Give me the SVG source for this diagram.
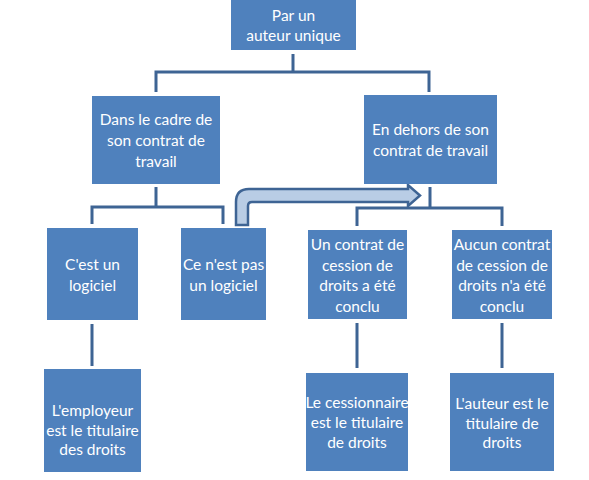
<svg xmlns="http://www.w3.org/2000/svg" width="589" height="480" viewBox="0 0 589 480">
<style>
.box{fill:#4F81BD;}
.t{font-family:Lato,"Liberation Sans",sans-serif;font-size:15.5px;fill:#FFFFFF;text-anchor:middle;}
.ln{stroke:#3E6494;stroke-width:3;fill:none;}
.arr{fill:#B9CDE5;stroke:#3E6494;stroke-width:2.5;stroke-linejoin:miter;}
</style>
<rect width="589" height="480" fill="#FFFFFF"/>
<g id="connectors">
<path class="ln" d="M293,54 V72 M156,92 V72 H429 V92"/>
<path class="ln" d="M156,187 V207 M92,224 V207 H223 V224"/>
<path class="ln" d="M430,187 V208 M357,226 V208 H502 V226"/>
<path class="ln" d="M92,324 V366 M357,323 V368 M502,323 V368"/>
<path class="arr" d="M236,225 L236,202 Q236,189 249,189 L408,189 L408,185 L420,195.5 L408,206 L408,202 L252,202 Q248,202 248,206 L248,225 Z"/>
</g>
<g id="n1"><rect class="box" x="231" y="0" width="125" height="50"/>
<text class="t" x="293.5" y="21">Par un</text><text class="t" x="293.5" y="41">auteur unique</text></g>
<g id="n2"><rect class="box" x="92" y="96" width="128" height="88"/>
<text class="t" x="156" y="125">Dans le cadre de</text><text class="t" x="156" y="146">son contrat de</text><text class="t" x="156" y="167">travail</text></g>
<g id="n3"><rect class="box" x="364" y="95" width="133" height="89"/>
<text class="t" x="430.5" y="135">En dehors de son</text><text class="t" x="430.5" y="156">contrat de travail</text></g>
<g id="n4"><rect class="box" x="47" y="228" width="91" height="92"/>
<text class="t" x="92.5" y="270">C'est un</text><text class="t" x="92.5" y="291">logiciel</text></g>
<g id="n5"><rect class="box" x="181" y="228" width="85" height="92"/>
<text class="t" x="223.5" y="270">Ce n'est pas</text><text class="t" x="223.5" y="291">un logiciel</text></g>
<g id="n6"><rect class="box" x="308" y="230" width="99" height="89"/>
<text class="t" x="357.5" y="250">Un contrat de</text><text class="t" x="357.5" y="270.5">cession de</text><text class="t" x="357.5" y="291">droits a été</text><text class="t" x="357.5" y="311.5">conclu</text></g>
<g id="n7"><rect class="box" x="452" y="230" width="100" height="89"/>
<text class="t" x="502" y="250">Aucun contrat</text><text class="t" x="502" y="270.5">de cession de</text><text class="t" x="502" y="291">droits n'a été</text><text class="t" x="502" y="311.5">conclu</text></g>
<g id="n8"><rect class="box" x="44" y="369" width="97" height="103"/>
<text class="t" x="92.5" y="416">L'employeur</text><text class="t" x="92.5" y="436">est le titulaire</text><text class="t" x="92.5" y="455">des droits</text></g>
<g id="n9"><rect class="box" x="306" y="373" width="102" height="98"/>
<text class="t" x="357" y="408">Le cessionnaire</text><text class="t" x="357" y="428">est le titulaire</text><text class="t" x="357" y="448">de droits</text></g>
<g id="n10"><rect class="box" x="450" y="373" width="104" height="98"/>
<text class="t" x="502" y="409">L'auteur est le</text><text class="t" x="502" y="429">titulaire de</text><text class="t" x="502" y="448">droits</text></g>
</svg>
